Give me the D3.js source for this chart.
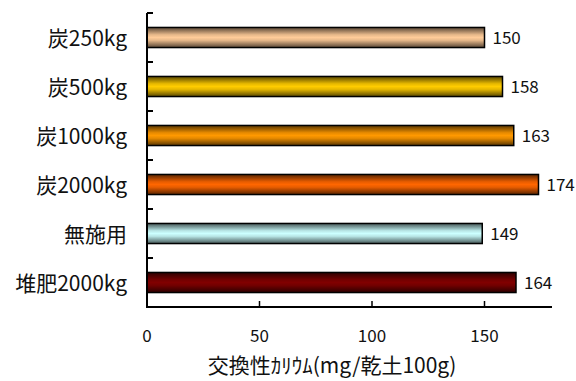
<!DOCTYPE html>
<html><head><meta charset="utf-8">
<script src="https://cdn.jsdelivr.net/npm/d3@7"></script>
<style>
html,body{margin:0;padding:0;background:#fff;}
text{font-family:"Noto Sans CJK JP","Noto Sans",sans-serif;fill:#111;}
</style></head>
<body><svg id="c" width="576" height="381"></svg>
<script>
const categories = ["炭250kg","炭500kg","炭1000kg","炭2000kg","無施用","堆肥2000kg"];
const values = [150,158,163,174,149,164];
const colors = ["#FFCC99","#FFCC00","#FF9900","#FF6600","#CCFFFF","#800000"];
const xTicks = [0,50,100,150];
const xTitle = "交換性ｶﾘｳﾑ(mg/乾土100g)";

(function(){
const svg = d3.select("#c");
const x = d3.scaleLinear().domain([0,180]).range([147,552]);
const y = d3.scaleBand().domain(categories).range([13,307]).paddingInner(0.59).paddingOuter(0.295);

const defs = svg.append("defs");
colors.forEach((c,i)=>{
  const g = defs.append("linearGradient").attr("id","g"+i).attr("x1",0).attr("y1",0).attr("x2",0).attr("y2",1);
  const base = d3.rgb(c);
  const stops = [[0,0.35],[0.18,0.62],[0.36,0.9],[0.5,1],[0.64,0.9],[0.82,0.62],[1,0.35]];
  stops.forEach(([o,k])=>{
    g.append("stop").attr("offset",o).attr("stop-color",d3.rgb(base.r*k,base.g*k,base.b*k).formatHex());
  });
});

svg.selectAll("rect.bar").data(categories).join("rect").attr("class","bar")
  .attr("x",x(0)).attr("y",d=>y(d))
  .attr("width",(d,i)=>x(values[i])-x(0)).attr("height",y.bandwidth())
  .attr("fill",(d,i)=>`url(#g${i})`).attr("stroke","#000").attr("stroke-width",1.5);

const step = y.step();
const y0 = y.range()[0], y1 = y.range()[1];
svg.append("line").attr("x1",x(0)).attr("x2",x(0)).attr("y1",y0).attr("y2",y1).attr("stroke","#000").attr("stroke-width",2);
d3.range(categories.length).forEach(i=>{
  const yy = y0 + i*step;
  svg.append("line").attr("x1",x(0)).attr("x2",x(0)+6).attr("y1",yy).attr("y2",yy).attr("stroke","#000").attr("stroke-width",2);
});
svg.append("line").attr("x1",x(0)-1).attr("x2",x(180)).attr("y1",y1).attr("y2",y1).attr("stroke","#000").attr("stroke-width",2);
xTicks.forEach(t=>{
  svg.append("line").attr("x1",x(t)).attr("x2",x(t)).attr("y1",y1).attr("y2",y1-6).attr("stroke","#000").attr("stroke-width",1.5);
  svg.append("text").attr("x",x(t)).attr("y",342).attr("text-anchor","middle").attr("font-size",17).text(t);
});

svg.selectAll("text.cat").data(categories).join("text").attr("class","cat")
  .attr("x",127).attr("y",d=>y(d)+y.bandwidth()/2+8).attr("text-anchor","end")
  .attr("font-size",21).text(d=>d);

svg.selectAll("text.val").data(values).join("text").attr("class","val")
  .attr("x",d=>x(d)+8).attr("y",(d,i)=>y(categories[i])+y.bandwidth()/2+6)
  .attr("font-size",17).text(d=>d);

svg.append("text").attr("x",332).attr("y",373).attr("text-anchor","middle").attr("font-size",21).text(xTitle);
})();
</script></body></html>
